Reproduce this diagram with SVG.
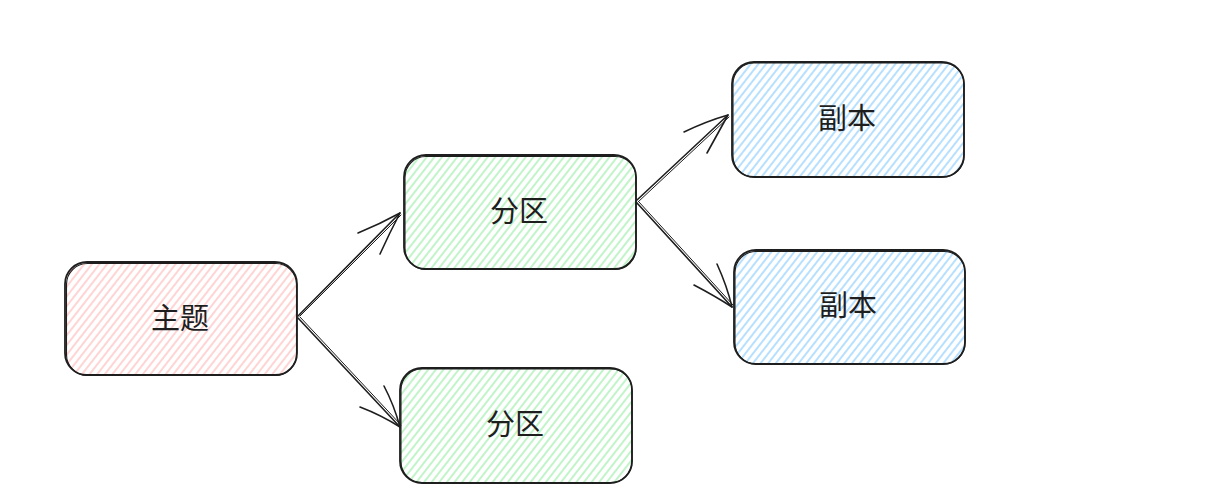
<svg xmlns="http://www.w3.org/2000/svg" width="1231" height="497" viewBox="0 0 1231 497">
<style>
.box{stroke:#1e1e1e;stroke-width:1.8;}
.box2{fill:none;stroke:#1e1e1e;stroke-width:1.1;}
.lbl{font-family:"Noto Sans CJK SC","Noto Sans",sans-serif;font-size:29px;fill:#1e1e1e;text-anchor:middle;dominant-baseline:central;}
.con{fill:none;stroke:#1e1e1e;stroke-width:1.6;stroke-linecap:round;stroke-linejoin:round;}
.con2{fill:none;stroke:#1e1e1e;stroke-width:1;stroke-linecap:round;}
</style>
<defs>
<pattern id="hp" width="6" height="6" patternUnits="userSpaceOnUse" patternTransform="rotate(38)"><line x1="1" y1="0" x2="1" y2="6" stroke="#ffc9c9" stroke-width="1.6"/></pattern>
<pattern id="hg" width="6" height="6" patternUnits="userSpaceOnUse" patternTransform="rotate(38)"><line x1="1" y1="0" x2="1" y2="6" stroke="#b2f2bb" stroke-width="1.6"/></pattern>
<pattern id="hb" width="6" height="6" patternUnits="userSpaceOnUse" patternTransform="rotate(38)"><line x1="1" y1="0" x2="1" y2="6" stroke="#a5d8ff" stroke-width="1.6"/></pattern>
</defs>
<rect width="1231" height="497" fill="#ffffff"/>
<g id="node-topic">
<rect class="box" x="65" y="262" width="232" height="113" rx="22" fill="url(#hp)"/>
<rect class="box2" x="66.5" y="263.5" width="230" height="112" rx="21"/>
<text class="lbl" x="180" y="316">主题</text>
</g>
<g id="node-partition1">
<rect class="box" x="404" y="155" width="232" height="114" rx="22" fill="url(#hg)"/>
<rect class="box2" x="405" y="156.5" width="231" height="113" rx="21"/>
<text class="lbl" x="519" y="209">分区</text>
</g>
<g id="node-partition2">
<rect class="box" x="400" y="368" width="232" height="115" rx="22" fill="url(#hg)"/>
<rect class="box2" x="401" y="369" width="231" height="113.5" rx="21"/>
<text class="lbl" x="515" y="422">分区</text>
</g>
<g id="node-replica1">
<rect class="box" x="732" y="62" width="232" height="115" rx="22" fill="url(#hb)"/>
<rect class="box2" x="733" y="63" width="231" height="114" rx="21"/>
<text class="lbl" x="847" y="116">副本</text>
</g>
<g id="node-replica2">
<rect class="box" x="734" y="250" width="231" height="114" rx="22" fill="url(#hb)"/>
<rect class="box2" x="735" y="251.5" width="230" height="112.5" rx="21"/>
<text class="lbl" x="848" y="303">副本</text>
</g>
<g id="connectors">
<path class="con" d="M298 316 L400 213"/>
<path class="con2" d="M300 316 L401 215"/>
<path class="con" d="M358 233 Q380 224 400 213 M380 254 Q390 232 400 213"/>
<path class="con" d="M298 318 L400 427"/>
<path class="con2" d="M300 317 L401 425"/>
<path class="con" d="M360 407 Q381 415 400 427 M384 386 Q394 405 400 427"/>
<path class="con" d="M637 200 L728 115"/>
<path class="con2" d="M638 202 L729 117"/>
<path class="con" d="M684 132 Q707 121 728 115 M707 153 Q718 133 728 115"/>
<path class="con" d="M637 203 L732 307"/>
<path class="con2" d="M639 202 L733 305"/>
<path class="con" d="M694 285 Q715 296 732 307 M717 264 Q727 286 732 307"/>
</g>
</svg>
